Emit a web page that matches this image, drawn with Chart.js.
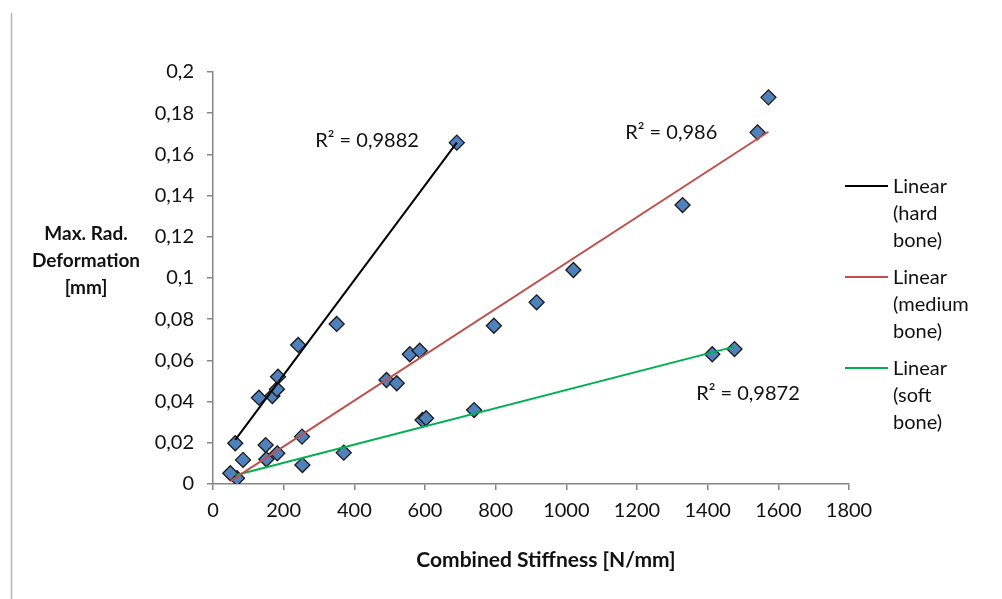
<!DOCTYPE html>
<html>
<head>
<meta charset="utf-8">
<script src="https://cdn.jsdelivr.net/npm/chart.js@4.4.1/dist/chart.umd.min.js"></script>
<style>
  body { margin: 0; background: #fff; }
  #wrap { width: 1002px; height: 599px; }
</style>
</head>
<body>
<div id="wrap"><canvas id="myChart" width="1002" height="599"></canvas></div>
<script>
// measured points, grouped by bone quality
const hardX = [63, 130, 168, 181, 184, 241, 350, 690];
const hardY = [0.0198, 0.0419, 0.0427, 0.046, 0.0521, 0.0675, 0.0777, 0.1657];

const mediumX = [49, 85, 149, 151, 182, 252, 491, 520, 557, 585, 795, 916, 1020, 1329, 1541, 1572];
const mediumY = [0.0052, 0.0117, 0.0189, 0.012, 0.0149, 0.023, 0.0505, 0.0489, 0.063, 0.0647, 0.0768, 0.0882, 0.1039, 0.1354, 0.1707, 0.1877];

const softX = [68, 253, 370, 593, 603, 739, 1413, 1476];
const softY = [0.0028, 0.0092, 0.0152, 0.0311, 0.0319, 0.0359, 0.063, 0.0655];

// trend line end points
const hardTrendX = [63, 690];
const hardTrendY = [0.0214, 0.1657];
const mediumTrendX = [50, 1572];
const mediumTrendY = [0.0015, 0.171];
const softTrendX = [66, 1476];
const softTrendY = [0.0044, 0.0667];

const trendLabels = ['Linear (hard bone)', 'Linear (medium bone)', 'Linear (soft bone)'];
const r2Labels = ['R² = 0,9882', 'R² = 0,986', 'R² = 0,9872'];

const xTickLabels = ['0', '200', '400', '600', '800', '1000', '1200', '1400', '1600', '1800'];
const yTickLabels = ['0', '0,02', '0,04', '0,06', '0,08', '0,1', '0,12', '0,14', '0,16', '0,18', '0,2'];

const pts = (xs, ys) => xs.map((x, i) => ({ x: x, y: ys[i] }));

const FONT = 'Lato, "Open Sans", sans-serif';
const AXIS = '#868686';
const INK = '#111111';

function markers(label, xs, ys) {
    return {
        label: label,
        data: pts(xs, ys),
        pointStyle: 'rectRot',
        pointRadius: 7.5,
        pointHoverRadius: 7.5,
        backgroundColor: '#4f81bd',
        borderColor: '#1a1a1a',
        borderWidth: 1.3,
        showLine: false,
        order: 2
    };
}

function trend(label, xs, ys, color) {
    return {
        label: label,
        data: pts(xs, ys),
        showLine: true,
        borderColor: color,
        backgroundColor: color,
        borderWidth: 2,
        pointRadius: 0,
        fill: false,
        order: 1
    };
}

// where the R² texts sit, in data units
const r2Pos = [
    { x: 436, y: 0.1665 },
    { x: 1297, y: 0.1704 },
    { x: 1514, y: 0.044 }
];

const extras = {
    id: 'extras',
    afterDraw(chart) {
        const ctx = chart.ctx;
        const sx = chart.scales.x, sy = chart.scales.y;
        ctx.save();

        // thin frame line on the left of the picture
        ctx.strokeStyle = '#b4b4b4';
        ctx.lineWidth = 1.5;
        ctx.beginPath();
        ctx.moveTo(11.5, 13);
        ctx.lineTo(11.5, 599);
        ctx.stroke();

        ctx.fillStyle = INK;
        ctx.textAlign = 'center';
        ctx.textBaseline = 'middle';

        ctx.font = '20px ' + FONT;
        r2Labels.forEach((t, i) => {
            ctx.fillText(t, sx.getPixelForValue(r2Pos[i].x), sy.getPixelForValue(r2Pos[i].y));
        });

        ctx.font = 'bold 21px ' + FONT;
        ctx.fillText('Combined Stiffness [N/mm]', 546, 560);
        ctx.font = 'bold 19px ' + FONT;
        ['Max. Rad.', 'Deformation', '[mm]'].forEach((t, i) => {
            ctx.fillText(t, 86, 234 + i * 27);
        });

        // legend: only the trend lines, wrapped like the original
        const wrapped = [['Linear', '(hard', 'bone)'], ['Linear', '(medium', 'bone)'], ['Linear', '(soft', 'bone)']];
        const colors = ['#000000', '#c0504d', '#00b050'];
        ctx.font = '20px ' + FONT;
        ctx.textAlign = 'left';
        wrapped.forEach((lines, i) => {
            const y0 = 186 + i * 91;
            ctx.strokeStyle = colors[i];
            ctx.lineWidth = 2;
            ctx.beginPath();
            ctx.moveTo(845, y0);
            ctx.lineTo(888, y0);
            ctx.stroke();
            lines.forEach((t, k) => ctx.fillText(t, 893, y0 + 1 + k * 27));
        });

        ctx.restore();
    }
};

new Chart(document.getElementById('myChart'), {
    type: 'scatter',
    data: {
        datasets: [
            markers('hard bone', hardX, hardY),
            markers('medium bone', mediumX, mediumY),
            markers('soft bone', softX, softY),
            trend(trendLabels[0], hardTrendX, hardTrendY, '#000000'),
            trend(trendLabels[1], mediumTrendX, mediumTrendY, '#c0504d'),
            trend(trendLabels[2], softTrendX, softTrendY, '#00b050')
        ]
    },
    options: {
        responsive: false,
        animation: false,
        layout: { padding: { left: 0, right: 153, top: 72, bottom: 0 } },
        plugins: {
            legend: { display: false },
            tooltip: { enabled: false }
        },
        scales: {
            x: {
                type: 'linear',
                min: 0,
                max: 1800,
                afterFit(scale) { scale.height = 115; },
                afterBuildTicks(scale) {
                    scale.ticks = xTickLabels.map((t, i) => ({ value: i * 200 }));
                },
                border: { display: true, color: AXIS, width: 1.5 },
                grid: { display: true, drawOnChartArea: false, drawTicks: true, tickLength: 6, color: AXIS, lineWidth: 1.5 },
                ticks: {
                    color: INK,
                    padding: 9,
                    maxRotation: 0,
                    font: { family: FONT, size: 20 },
                    callback: (v, i) => xTickLabels[i]
                }
            },
            y: {
                type: 'linear',
                min: 0,
                max: 0.2,
                afterFit(scale) { scale.width = 213; },
                afterBuildTicks(scale) {
                    scale.ticks = yTickLabels.map((t, i) => ({ value: i * 0.02 }));
                },
                border: { display: true, color: AXIS, width: 1.5 },
                grid: { display: true, drawOnChartArea: false, drawTicks: true, tickLength: 6, color: AXIS, lineWidth: 1.5 },
                ticks: {
                    color: INK,
                    padding: 13,
                    font: { family: FONT, size: 20 },
                    callback: (v, i) => yTickLabels[i]
                }
            }
        }
    },
    plugins: [extras]
});
</script>
</body>
</html>
